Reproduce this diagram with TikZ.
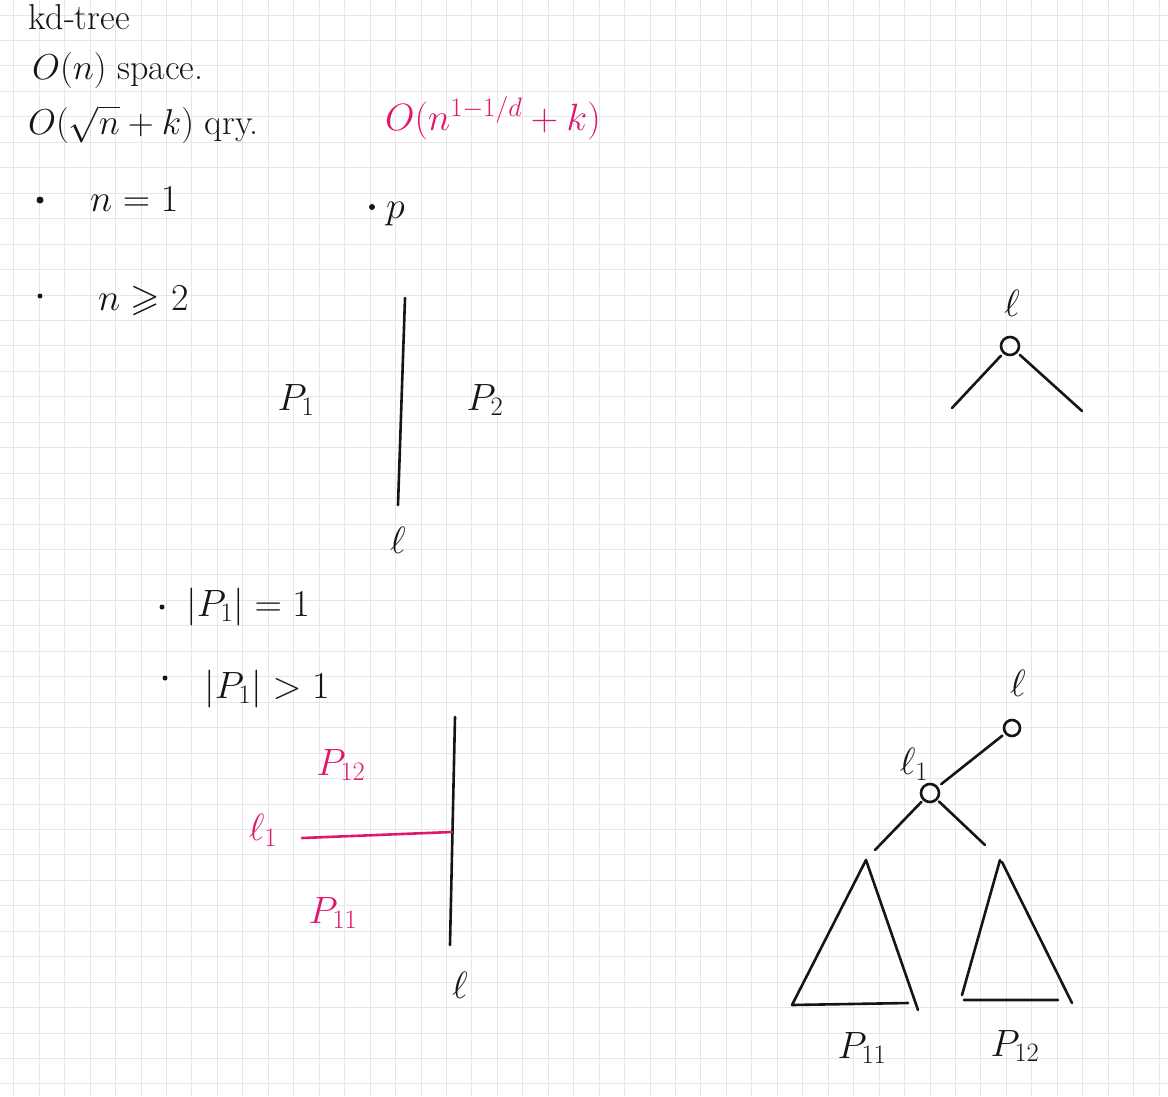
\RequirePackage{fix-cm}
\documentclass[tikz,border=0pt]{standalone}
\usepackage{amsmath,amssymb,xcolor,tikz}
\usetikzlibrary{arrows.meta,positioning,calc}
\definecolor{ink}{HTML}{151515}
\definecolor{pen}{HTML}{E0186C}
\definecolor{rule}{HTML}{E4E7EE}
\tikzset{
  txt/.style={anchor=base west, inner sep=0pt, font=\fontsize{38}{42}\selectfont, text=ink},
  htxt/.style={txt, font=\fontsize{36}{38}\selectfont},
  ptxt/.style={txt, text=pen},
  lbl/.style={inner sep=0pt, font=\fontsize{38}{42}\selectfont, text=ink},
  plbl/.style={lbl, text=pen},
  bul/.style={circle, fill=ink, inner sep=0pt, minimum size=7pt},
  knot/.style={circle, draw=ink, line width=2.6pt, inner sep=0pt, minimum size=18pt},
  stroke/.style={draw=ink, line width=2.6pt, line cap=round, line join=round},
  pstroke/.style={draw=pen, line width=2.6pt, line cap=round},
  rl/.style={rule, line width=0.9pt},
}
\newcommand{\gridpaper}{%
  \fill[white] (0,0) rectangle (1168,1096);
  \foreach \xx in {0,...,45} \draw[rl] ({13.75+25.45*\xx},0) -- ({13.75+25.45*\xx},1096);
  \foreach \yy in {0,...,42} \draw[rl] (0,{15+25.45*\yy}) -- (1168,{15+25.45*\yy});}

\begin{document}
\begin{tikzpicture}[x=1pt, y=-1pt]
  \useasboundingbox (0,0) rectangle (1168,1096);
  \gridpaper
  % header
  \node[htxt] (title) at (28,29) {kd-tree};
  \node[htxt] (space) at (32,79) {$O(n)$ space.};
  \node[htxt] (query) at (28,134) {$O(\sqrt{n}+k)$ qry.};
  \node[ptxt] (bound) at (385,130) {$O(n^{1-1/d}+k)$};
  % cases
  \node[bul] (b1) at (40,200) {};
  \node[txt] (n1) at (90,211) {$n=1$};
  \node[bul, minimum size=6pt] (pt) at (372,207) {};
  \node[txt] (plab) at (386,218) {$p$};
  \node[bul, minimum size=5pt] (b2) at (40,296) {};
  \node[txt] (n2) at (98,310) {$n\geqslant 2$};
  % first split
  \coordinate (la) at (405,298);
  \coordinate (lb) at (398,505);
  \draw[stroke] (la) -- (lb);
  \node[lbl] (ell) at (398,540) {$\ell$};
  \node[lbl] (P1) at (296,400) {$P_1$};
  \node[lbl] (P2) at (485,400) {$P_2$};
  \node[bul, minimum size=5pt] (b3) at (162,607) {};
  \node[txt] (c1) at (186,616) {$|P_1|=1$};
  \node[bul, minimum size=5pt] (b4) at (165,678) {};
  \node[txt] (c2) at (204,698) {$|P_1|>1$};
  % second split
  \coordinate (ma) at (455,717);
  \coordinate (mb) at (450,945);
  \draw[stroke] (ma) -- (mb);
  \node[lbl] (ellb) at (460,985) {$\ell$};
  \node[plbl] (P12) at (341,765) {$P_{12}$};
  \node[plbl] (ell1) at (263,830) {$\ell_1$};
  \coordinate (cs) at (302,838);
  \coordinate (cut) at (452,832);
  \draw[pstroke] (cs) -- (cut);
  \node[plbl] (P11) at (333,913) {$P_{11}$};
  % tree, one level
  \node[lbl] (rlab) at (1012,303) {$\ell$};
  \node[knot] (root) at (1010,346) {};
  \coordinate (rl) at (952,408);
  \coordinate (rr) at (1082,411);
  \draw[stroke, shorten <=3pt] (root) -- (rl);
  \draw[stroke, shorten <=3pt] (root) -- (rr);
  % tree, two levels
  \node[lbl] (tlab) at (1018,683) {$\ell$};
  \node[knot, minimum size=16pt] (top) at (1012,728) {};
  \node[lbl] (sublab) at (914,764) {$\ell_1$};
  \node[knot] (sub) at (930,793) {};
  \draw[stroke, shorten <=3pt, shorten >=4pt] (top) -- (sub);
  \coordinate (sl) at (875,850);
  \coordinate (sr) at (985,845);
  \draw[stroke, shorten <=2pt] (sub) -- (sl);
  \draw[stroke, shorten <=2pt] (sub) -- (sr);
  \draw[stroke] (918,1010) -- (866,860) -- (792,1005) -- (908,1003);
  \draw[stroke] (1072,1003) -- (1002,862) (1000,860) -- (962,995) (964,1000) -- (1058,1000);
  \node[lbl] (T11) at (862,1048) {$P_{11}$};
  \node[lbl] (T12) at (1015,1046) {$P_{12}$};
\end{tikzpicture}
\end{document}
